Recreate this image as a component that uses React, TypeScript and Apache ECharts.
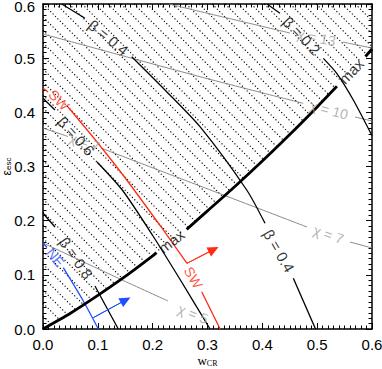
import { useEffect, useRef } from "react";
import * as echarts from "echarts";

type Pt = [number, number];
type Lbl = { text: string; at: Pt; rotate: number };

// axis range (both axes)
const axisMin = 0;
const axisMax = 0.6;
const majorStep = 0.1;
const minorSplits = 10;

// thick "max" boundary, split where its labels sit
const maxSegments: Pt[][] = [
  [[0, 0], [0.05, 0.029], [0.1, 0.062], [0.15, 0.097], [0.2, 0.135], [0.207, 0.141]],
  [[0.262, 0.184], [0.3, 0.218], [0.35, 0.263], [0.4, 0.31], [0.45, 0.359], [0.5, 0.41], [0.536, 0.448]],
  [[0.588, 0.503], [0.6, 0.517]],
];
const maxLabels: Lbl[] = [
  { text: "max", at: [0.234, 0.162], rotate: 38 },
  { text: "max", at: [0.562, 0.476], rotate: 46 },
];

// beta contours
const beta02: Pt[][] = [
  [[0.4085, 0.6], [0.4322, 0.583]],
  [[0.5112, 0.4997], [0.5357, 0.472], [0.5659, 0.4228], [0.6, 0.357]],
];
const beta04: Pt[][] = [
  [[0.0341, 0.6], [0.0766, 0.5736]],
  [[0.1618, 0.5027], [0.2243, 0.4394], [0.2863, 0.3735], [0.3715, 0.2566], [0.4049, 0.1951]],
  [[0.4565, 0.0936], [0.497, 0]],
];
const beta06: Pt[][] = [
  [[0, 0.426], [0.0219, 0.4043]],
  [[0.0985, 0.3083], [0.1459, 0.2548], [0.2006, 0.1717], [0.2517, 0.0886], [0.3046, 0]],
];
const beta08: Pt[][] = [
  [[0, 0.2136], [0.0219, 0.1883]],
  [[0.0948, 0.0794], [0.1162, 0.0393], [0.1373, 0]],
];
const betaLabels: Lbl[] = [
  { text: "β = 0.2", at: [0.4718, 0.5413], rotate: -46 },
  { text: "β = 0.4", at: [0.1193, 0.5381], rotate: -39 },
  { text: "β = 0.4", at: [0.4304, 0.1444], rotate: -60 },
  { text: "β = 0.6", at: [0.0602, 0.3563], rotate: -48 },
  { text: "β = 0.8", at: [0.0602, 0.1311], rotate: -55 },
];

// chi contours (gray)
const chi13: Pt[][] = [
  [[0.2298, 0.6], [0.2499, 0.595], [0.4505, 0.5464]],
  [[0.5471, 0.5297], [0.6, 0.5187]],
];
const chi10: Pt[][] = [
  [[0, 0.5446], [0.2863, 0.4658], [0.4747, 0.4166]],
  [[0.569, 0.3914], [0.6, 0.384]],
];
const chi7: Pt[][] = [
  [[0, 0.371], [0.0456, 0.3554]],
  [[0.1058, 0.3341], [0.2863, 0.264], [0.4815, 0.1883]],
  [[0.5599, 0.1606], [0.6, 0.1495]],
];
const chi5: Pt[][] = [[[0, 0.1588], [0.1404, 0.0923], [0.228, 0.0517]]];
const chiLabels: Lbl[] = [
  { text: "χ = 13", at: [0.4988, 0.5381], rotate: -11 },
  { text: "χ = 10", at: [0.5216, 0.4043], rotate: -15 },
  { text: "χ = 7", at: [0.5207, 0.1745], rotate: -19 },
  { text: "χ = 7", at: [0.0757, 0.3452], rotate: -19 },
  { text: "χ = 5", at: [0.2736, 0.0277], rotate: -21 },
];

// SW (red) and NE (blue) boundaries with their arrows
const swLine: Pt[][] = [
  [[0, 0.4449], [0.0091, 0.4375]],
  [[0.0456, 0.4098], [0.0985, 0.3452], [0.1527, 0.2751], [0.2194, 0.1828], [0.2626, 0.1213]],
  [[0.2894, 0.0689], [0.323, 0]],
];
const swLabels: Lbl[] = [
  { text: "SW", at: [0.0292, 0.4227], rotate: -45 },
  { text: "SW", at: [0.2743, 0.0951], rotate: -59 },
];
const swArrow: Pt[] = [[0.2626, 0.1213], [0.3112, 0.1467]];

const neLine: Pt[][] = [
  [[0, 0.1588], [0.0073, 0.1505]],
  [[0.037, 0.1132], [0.0735, 0.0517], [0.1009, 0]],
];
const neLabels: Lbl[] = [{ text: "NE", at: [0.0228, 0.132], rotate: -51 }];
const neArrow: Pt[] = [[0.0917, 0.0209], [0.1506, 0.0534]];

const RED = "#ff2a10";
const BLUE = "#1f4fff";
const GRAY_LINE = "#8a8a8a";
const GRAY_TEXT = "#a0a0a0";
const FONT = "Liberation Sans";

const hatchSpacing = 9.2; // px, perpendicular

function lines(segs: Pt[][], color: string, width: number, z: number) {
  return segs.map((data) => ({
    type: "line",
    data,
    showSymbol: false,
    symbol: "none",
    smooth: 0.25,
    lineStyle: { color, width },
    z,
    silent: true,
  }));
}

function labels(items: Lbl[], color: string, fontSize: number, z: number) {
  return {
    type: "scatter",
    symbolSize: 0,
    z,
    silent: true,
    data: items.map((l) => ({
      value: l.at,
      label: { rotate: l.rotate, formatter: l.text },
    })),
    label: {
      show: true,
      position: "inside",
      color,
      fontSize,
      fontFamily: FONT,
    },
  };
}

function arrow(pts: Pt[], color: string) {
  return {
    type: "line",
    data: pts,
    showSymbol: false,
    symbol: "none",
    lineStyle: { color, width: 1 },
    z: 6,
    silent: true,
    markLine: {
      silent: true,
      symbol: ["none", "triangle"],
      symbolSize: [10, 11],
      label: { show: false },
      lineStyle: { color, width: 1, type: "solid" },
      data: [[{ coord: pts[0] }, { coord: pts[1] }]],
    },
  };
}

function axisCommon(showLabel: boolean) {
  return {
    type: "value",
    min: axisMin,
    max: axisMax,
    interval: majorStep,
    splitLine: { show: false },
    axisLine: { show: true, onZero: false, lineStyle: { color: "#000", width: 1.5 } },
    axisTick: { show: true, inside: true, length: 6, lineStyle: { color: "#000", width: 1 } },
    minorTick: { show: true, splitNumber: minorSplits, length: 3.5, lineStyle: { color: "#000", width: 1 } },
    axisLabel: {
      show: showLabel,
      color: "#000",
      fontSize: 15,
      fontFamily: FONT,
      formatter: (v: number) => v.toFixed(1),
      showMinLabel: true,
      showMaxLabel: true,
    },
  };
}

function buildOption() {
  const maxCurve: Pt[] = ([] as Pt[]).concat(...maxSegments);
  const hatch = {
    type: "custom",
    z: 1,
    silent: true,
    data: [[0, 0]],
    renderItem: (_params: any, api: any) => {
      const poly: number[][] = [
        ...maxCurve.map((p) => api.coord(p)),
        api.coord([axisMax, axisMax]),
        api.coord([axisMin, axisMax]),
      ];
      const nv = (p: number[]) => (p[0] - p[1]) / Math.SQRT2;
      const vals = poly.map(nv);
      const cmin = Math.min(...vals);
      const cmax = Math.max(...vals);
      const children: any[] = [];
      for (let c = Math.ceil(cmin / hatchSpacing) * hatchSpacing; c <= cmax; c += hatchSpacing) {
        const pts: number[][] = [];
        for (let i = 0; i < poly.length; i++) {
          const a = poly[i];
          const b = poly[(i + 1) % poly.length];
          const fa = nv(a) - c;
          const fb = nv(b) - c;
          if ((fa <= 0 && fb >= 0) || (fa >= 0 && fb <= 0)) {
            if (fa === fb) continue;
            const t = fa / (fa - fb);
            pts.push([a[0] + t * (b[0] - a[0]), a[1] + t * (b[1] - a[1])]);
          }
        }
        if (pts.length < 2) continue;
        pts.sort((p, q) => p[0] + p[1] - (q[0] + q[1]));
        const p1 = pts[0];
        const p2 = pts[pts.length - 1];
        children.push({
          type: "line",
          shape: { x1: p1[0], y1: p1[1], x2: p2[0], y2: p2[1] },
          style: { stroke: "#000", lineWidth: 1.1, lineDash: [1.2, 2.2] },
        });
      }
      return { type: "group", children };
    },
  };

  const yLabelBase = axisCommon(true).axisLabel;

  return {
    animation: false,
    backgroundColor: "#fff",
    grid: { left: 43, right: 10, top: 4, bottom: 40, containLabel: false, outerBoundsMode: "none" },
    xAxis: [
      {
        ...axisCommon(true),
        position: "bottom",
        name: "{w|w}{s|CR}",
        nameLocation: "middle",
        nameMoveOverlap: false,
        nameGap: 25,
        nameTextStyle: {
          rich: {
            w: { fontFamily: "Liberation Serif", fontSize: 13, lineHeight: 13, verticalAlign: "top", color: "#000" },
            s: { fontFamily: "Liberation Serif", fontSize: 8, lineHeight: 8, verticalAlign: "bottom", color: "#000" },
          },
        },
      },
      { ...axisCommon(false), position: "top" },
    ],
    yAxis: [
      {
        ...axisCommon(true),
        position: "left",
        axisLabel: {
          ...yLabelBase,
          margin: 8,
          formatter: (v: number) => (v >= axisMax - 1e-9 ? `{t|${v.toFixed(1)}}` : v.toFixed(1)),
          rich: {
            t: { fontSize: 15, fontFamily: FONT, color: "#000", padding: [5, 0, 0, 0] },
          },
        },
        name: "{e|ε}{s|esc}",
        nameLocation: "middle",
        nameMoveOverlap: false,
        nameRotate: 90,
        nameGap: 31,
        nameTextStyle: {
          rich: {
            e: { fontFamily: FONT, fontSize: 12, lineHeight: 11, verticalAlign: "top", color: "#000" },
            s: { fontFamily: FONT, fontSize: 8, lineHeight: 7, verticalAlign: "bottom", color: "#000" },
          },
        },
      },
      { ...axisCommon(false), position: "right" },
    ],
    series: [
      hatch,
      ...lines(chi13, GRAY_LINE, 1, 3),
      ...lines(chi10, GRAY_LINE, 1, 3),
      ...lines(chi7, GRAY_LINE, 1, 3),
      ...lines(chi5, GRAY_LINE, 1, 3),
      ...lines(beta02, "#000", 1.3, 4),
      ...lines(beta04, "#000", 1.3, 4),
      ...lines(beta06, "#000", 1.3, 4),
      ...lines(beta08, "#000", 1.3, 4),
      ...lines(swLine, RED, 1.3, 5),
      ...lines(neLine, BLUE, 1.3, 5),
      ...lines(maxSegments, "#000", 2.8, 6),
      arrow(swArrow, RED),
      arrow(neArrow, BLUE),
      labels(chiLabels, GRAY_TEXT, 14, 8),
      labels(betaLabels, "#000", 15, 9),
      labels(maxLabels, "#000", 15, 9),
      labels(swLabels, RED, 14, 9),
      labels(neLabels, BLUE, 14, 9),
    ],
  };
}

export default function App() {
  const ref = useRef<HTMLDivElement>(null);
  useEffect(() => {
    const chart = echarts.init(ref.current!, null, { renderer: "svg" });
    chart.setOption(buildOption() as any);
    return () => chart.dispose();
  }, []);
  return (
    <div
      ref={ref}
      style={{ position: "fixed", left: 0, top: 0, width: 382, height: 369, background: "#fff" }}
    />
  );
}
